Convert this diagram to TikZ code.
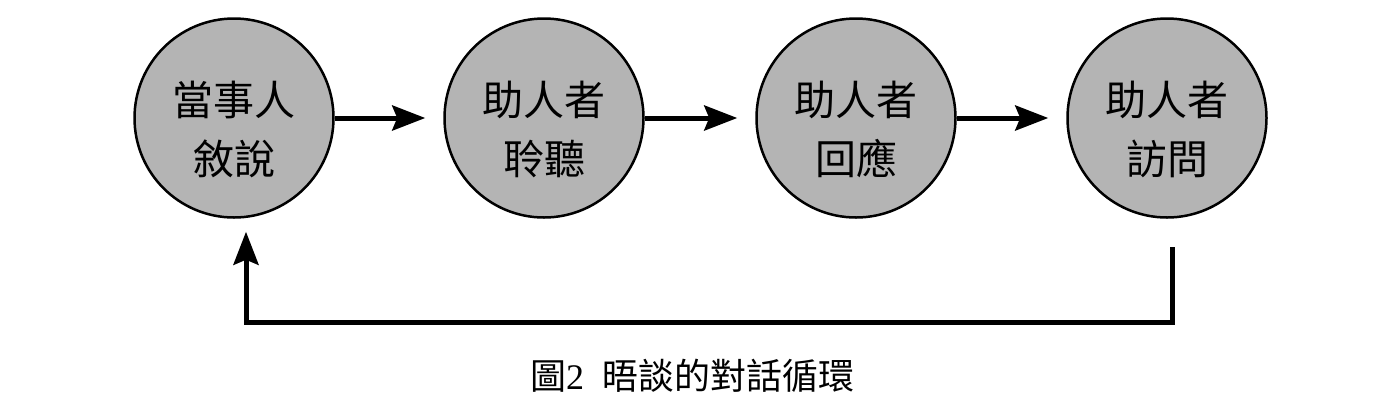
\documentclass[tikz,border=0pt]{standalone}
\usepackage{fontspec}
\setmainfont{Liberation Serif}
\newfontfamily\cjk{Noto Sans CJK TC}
\usetikzlibrary{arrows.meta,calc}
\definecolor{bubblegray}{RGB}{180,180,180}
\begin{document}
\begin{tikzpicture}[x=1pt,y=-1pt,
  bubble/.style={circle,draw=black,fill=bubblegray,line width=2.5pt,minimum size=199pt,inner sep=0pt},
  lbl/.style={font=\cjk\fontsize{41}{59}\selectfont,align=center,inner sep=0pt},
  flow/.style={line width=5pt,-{Stealth[length=33pt,width=25pt,inset=5pt]}},
  fb/.style={line width=5pt,line join=miter,-{Stealth[length=33pt,width=25pt,inset=5pt]}}]
\useasboundingbox (0,0) rectangle (1400,408);
\node[bubble] (a) at (234,118) {};
\node[bubble] (b) at (544,118) {};
\node[bubble] (c) at (856,118) {};
\node[bubble] (d) at (1167,118) {};
\node[lbl] (ta) at (234,129) {當事人\\敘說};
\node[lbl] (tb) at (544,129) {助人者\\聆聽};
\node[lbl] (tc) at (856,129) {助人者\\回應};
\node[lbl] (td) at (1167,129) {助人者\\訪問};
\draw[flow,shorten >=18pt] (a.east) -- (b.west);
\draw[flow,shorten >=18pt] (b.east) -- (c.west);
\draw[flow,shorten >=18pt] (c.east) -- (d.west);
\coordinate (fbstart) at (1172,247);
\coordinate (fbcorner) at (246,322);
\draw[fb,shorten >=13pt] (fbstart) |- (fbcorner) -- (a.south -| fbcorner);
\node[inner sep=0pt] (cap) at (692,376) {\fontsize{36}{42}\selectfont{\cjk 圖}2\hspace{0.5em}{\cjk 晤談的對話循環}};
\end{tikzpicture}
\end{document}
